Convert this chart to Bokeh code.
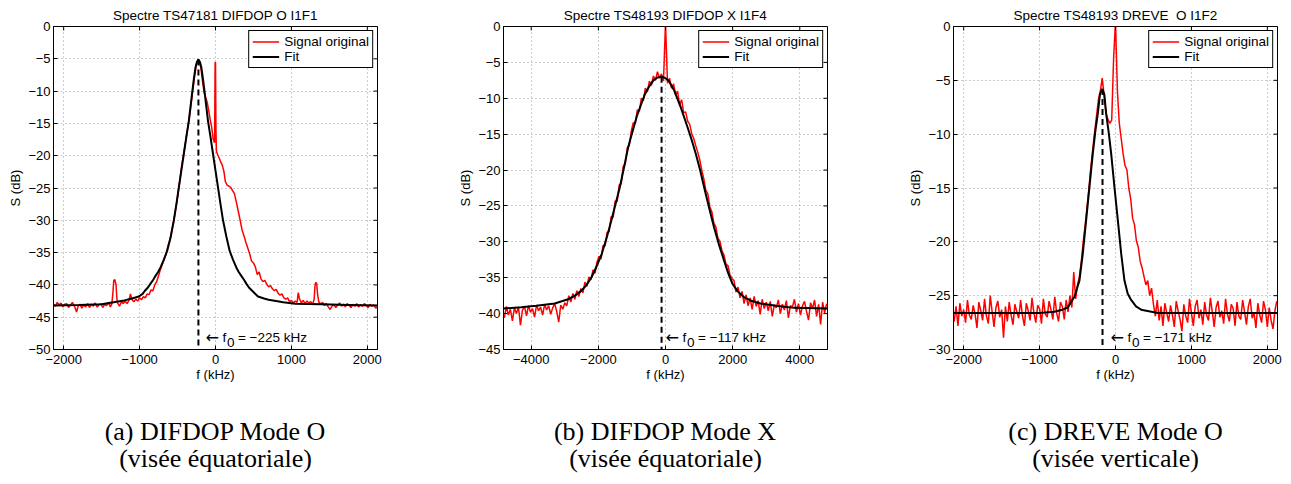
import numpy as np
from bokeh.plotting import figure
from bokeh.layouts import row, column
from bokeh.models import (Range1d, Label, Legend, FixedTicker, Title,
                          CustomJSTickFormatter)
from bokeh.core.properties import value
from bokeh.embed import file_html
from bokeh.resources import INLINE

SANS = "Liberation Sans"
SERIF = "Liberation Serif"

# ---------------- texts / axes ----------------
titles = ["Spectre TS47181 DIFDOP O I1F1",
          "Spectre TS48193 DIFDOP X I1F4",
          "Spectre TS48193 DREVE \u00a0O I1F2"]
captions_1 = ["(a) DIFDOP Mode O", "(b) DIFDOP Mode X", "(c) DREVE Mode O"]
captions_2 = ["(visée équatoriale)", "(visée équatoriale)", "(visée verticale)"]
f0_values = [-225, -117, -171]
f0_peaks = [-5.1, -7.0, -5.8]
x_ranges = [(-2134, 2134), (-4825, 4825), (-2134, 2134)]
y_ranges = [(-50, 0), (-45, 0), (-30, 0)]
x_ticks = [[-2000, -1000, 0, 1000, 2000],
           [-4000, -2000, 0, 2000, 4000],
           [-2000, -1000, 0, 1000, 2000]]
y_ticks = [[-50, -45, -40, -35, -30, -25, -20, -15, -10, -5, 0],
           [-45, -40, -35, -30, -25, -20, -15, -10, -5, 0],
           [-30, -25, -20, -15, -10, -5, 0]]

# ---------------- panel (a) ----------------
f1_sig = [-2134, -2110, -2085, -2060, -2035, -2010, -1985, -1960, -1935, -1910,
          -1885, -1860, -1830, -1810, -1785, -1760, -1735, -1710, -1685, -1660,
          -1635, -1610, -1585, -1560, -1535, -1510, -1485, -1460, -1435, -1410, -1385,
          -1365, -1350, -1340, -1325, -1310, -1300, -1290, -1265, -1240, -1215,
          -1190, -1165, -1140, -1120, -1100, -1075, -1050, -1025, -1000, -975,
          -950, -925, -900, -875, -850, -825, -800, -775, -750, -725,
          -700, -675, -650, -625, -600, -575, -550, -525, -500, -475,
          -450, -425, -400, -375, -350, -325, -300, -275, -250, -230,
          -210, -190, -170, -150, -130, -110, -90, -70, -50, -30,
          -12, -5, 0, 6, 12,
          30, 50, 70, 90, 110, 130, 150, 175, 200, 225,
          250, 275, 300, 325, 350, 375, 400, 425, 450, 475,
          500, 525, 550, 575, 600, 625, 650, 675, 700, 725,
          750, 775, 800, 825, 850, 875, 900, 925, 950, 975, 1000,
          1025, 1050, 1075, 1090, 1105, 1130, 1155, 1180, 1205, 1230,
          1255, 1280, 1300, 1310, 1320, 1333, 1345, 1360, 1385, 1410,
          1435, 1460, 1485, 1510, 1535, 1560, 1585, 1610, 1635, 1660,
          1685, 1710, 1735, 1760, 1785, 1810, 1835, 1860, 1885, 1910,
          1935, 1960, 1985, 2010, 2035, 2060, 2085, 2110, 2134]
s1_sig = [-43.0, -43.3, -42.7, -43.1, -42.8, -43.4, -43.0, -42.9, -43.5, -43.1,
          -42.7, -43.2, -44.2, -43.3, -43.0, -43.6, -43.1, -43.4, -42.9, -43.5,
          -43.0, -43.3, -42.8, -43.4, -43.1, -42.9, -43.5, -43.0, -43.2, -42.7, -43.4,
          -42.9, -41.0, -39.3, -39.2, -40.0, -42.0, -42.8, -43.3, -42.6, -42.9,
          -42.5, -42.9, -42.4, -41.4, -42.3, -42.6, -42.2, -42.5, -42.0, -42.3,
          -41.8, -42.0, -41.4, -41.5, -40.8, -40.9, -40.0, -39.5, -38.6, -37.6,
          -36.8, -35.9, -35.2, -33.9, -33.0, -31.5, -30.2, -28.3, -26.4, -24.3,
          -22.0, -20.1, -18.3, -16.4, -14.5, -12.3, -10.0, -7.6, -5.8, -5.1,
          -5.5, -6.6, -8.6, -10.2, -11.0, -11.7, -13.0, -14.4, -15.6, -17.5,
          -18.0, -5.6, -5.5, -16.0, -19.3,
          -19.9, -20.4, -21.0, -21.5, -22.4, -24.0, -24.5, -24.7, -24.9, -25.4,
          -25.9, -27.2, -28.6, -30.0, -31.5, -32.4, -33.4, -34.3, -35.2, -36.3,
          -36.6, -37.2, -38.4, -38.0, -39.1, -39.5, -39.3, -39.9, -40.3, -40.1,
          -40.6, -40.9, -40.7, -41.3, -41.6, -41.4, -42.0, -42.2, -42.0, -42.6, -42.4,
          -42.8, -42.5, -42.7, -41.2, -42.1, -42.8, -42.4, -42.9, -42.5, -42.8,
          -42.6, -43.0, -42.2, -40.2, -39.6, -39.8, -41.5, -42.6, -43.0, -42.7,
          -43.2, -42.9, -43.4, -43.8, -43.3, -43.0, -43.5, -43.1, -42.8, -43.3,
          -43.0, -43.4, -42.9, -43.2, -43.5, -43.0, -43.3, -42.9, -43.4, -43.1,
          -43.3, -42.9, -43.2, -43.5, -43.0, -43.3, -43.1, -43.6, -43.4]
f1_fit = [-2134, -1800, -1500, -1343, -1200, -1100, -1010, -960, -930, -890, -856,
          -820, -790, -756, -724, -680, -636, -590, -549, -515,
          -483, -450, -417, -384, -351, -329, -307, -285, -263, -245, -225,
          -205, -187, -165, -143, -121, -99, -66, -33, 0, 33,
          66, 99, 143, 186, 230, 274, 306, 340, 375, 406, 440, 483, 560,
          640, 700, 893, 1050, 1400, 1750, 2134]
s1_fit = [-43.2, -43.1, -43.0, -42.7, -42.4, -42.1, -41.8, -41.4, -40.9, -40.4, -39.8,
          -39.2, -38.6, -38.0, -37.3, -36.1, -34.7, -32.6, -30.0, -27.5,
          -24.9, -22.3, -19.7, -17.1, -14.6, -12.4, -10.2, -8.1, -6.3, -5.5, -5.1,
          -5.5, -6.3, -8.1, -10.2, -12.4, -14.6, -17.1, -19.7, -22.3, -24.9,
          -27.5, -30.0, -32.5, -34.7, -36.1, -37.3, -38.0, -38.6, -39.2, -39.8, -40.4, -40.9, -41.8,
          -42.1, -42.3, -42.7, -42.9, -43.0, -43.1, -43.2]

# ---------------- panel (b) ----------------  (signal sampled every 60 kHz from -4800 to 4800)
s2_sig = [-40.6, -39.0, -40.2, -39.4, -41.0, -39.2, -40.0, -39.1, -41.6, -39.5,
          -39.0, -40.3, -38.9, -39.8, -39.3, -40.5, -38.8, -39.6, -39.1, -40.2,
          -38.7, -39.5, -38.9, -40.1, -39.2, -38.6, -39.7, -41.2, -38.8, -39.4, -38.5,
          -38.9, -37.5, -38.4, -37.2, -38.0, -36.8, -37.6, -36.5, -37.1, -35.6,
          -36.2, -34.9, -35.3, -33.9, -34.4, -32.8,
          -32.0, -32.4, -30.5, -30.6, -28.7, -28.6, -26.5, -26.6, -24.3, -24.4,
          -22.1, -21.9, -19.5, -19.2, -16.9, -16.6, -14.6,
          -13.4, -13.5, -11.6, -11.8, -10.0, -10.3, -8.6, -9.1, -7.6, -8.2,
          -6.9, -7.5, -6.3, -7.2, -6.6, -7.6, 0.5,
          -7.9, -7.2, -8.6, -8.0, -9.5, -9.0, -10.9, -10.2, -12.0, -11.9,
          -13.2, -13.6, -14.9, -15.6, -16.6, -17.5,
          -18.6, -20.0, -21.2, -22.8, -23.3, -25.1, -25.8, -27.4, -27.9, -29.5,
          -29.9, -31.2, -31.8, -33.1, -33.3, -34.6, -35.1,
          -35.4, -37.0, -36.3, -37.8, -36.9, -38.6, -37.4, -38.9, -37.8, -39.4,
          -37.6, -39.0, -38.2, -40.1, -38.0, -39.3, -38.4,
          -39.6, -38.3, -40.4, -38.8, -39.2, -38.1, -40.0, -38.7, -39.5, -38.2,
          -40.6, -38.9, -39.1, -38.0, -39.8, -38.6, -40.2, -38.9, -38.3, -39.7,
          -40.9, -38.5, -39.3, -38.1, -40.4, -38.7, -41.5, -38.4, -39.9, -38.6]
f2_fit = [-4825, -4300, -3850, -3300, -2900, -2700, -2500, -2350, -2200, -2050,
          -1900, -1750, -1610, -1480, -1360, -1230, -1110, -980, -860, -730,
          -610, -480, -360, -240, -117, 0, 100, 256, 450, 654,
          780, 900, 1030, 1150, 1300, 1447, 1600, 1743, 1870, 1990,
          2150, 2335, 2550, 2830, 3300, 3820, 4825]
s2_fit = [-39.3, -39.1, -38.9, -38.6, -38.0, -37.5, -36.8, -36.0, -34.9, -33.4,
          -31.7, -29.4, -27.0, -24.6, -22.4, -19.5, -16.8, -14.6, -12.6, -10.9,
          -9.4, -8.3, -7.5, -7.1, -7.0, -7.2, -7.6, -8.9, -11.2, -14.0,
          -15.8, -17.7, -20.0, -22.4, -25.3, -28.0, -30.5, -32.6, -34.4, -35.8,
          -36.9, -37.7, -38.2, -38.6, -38.9, -39.2, -39.3]

# ---------------- panel (c) ----------------  (signal sampled every 25 kHz from -2125 to 2125)
s3_sig = [-27.4, -26.0, -27.8, -25.7, -26.9, -26.3, -27.5, -25.4, -26.8, -27.2,
          -25.9, -26.7, -28.0, -25.6, -26.4, -27.3, -25.3, -26.9, -27.6, -25.0,
          -26.5, -27.9, -26.1, -25.5, -27.0, -26.3, -28.9, -26.0, -27.4, -25.6,
          -26.8, -27.7, -25.8, -26.5, -27.1, -25.4, -26.9, -27.8, -25.7, -26.4,
          -27.3, -25.2, -26.6, -27.5, -25.9, -26.2, -27.6, -25.3, -26.7, -27.0,
          -25.5, -26.3, -27.2, -25.1, -26.6, -27.4, -25.6,
          -26.0, -27.2, -25.4, -26.5, -25.0, -26.1, -22.8, -25.3, -24.0, -23.2,
          -21.8, -20.0, -18.5, -16.8, -15.0, -13.1, -11.4,
          -9.8, -8.3, -6.8, -6.0, -4.8, -6.4, -8.1, -8.6, -9.0, -8.7, -3.0, 0.5,
          -6.0, -9.0, -10.4, -11.8, -12.9, -13.3, -15.0, -16.0, -17.8, -18.4,
          -19.9, -20.5, -21.8, -22.4, -23.2, -24.0, -23.6, -25.0, -24.3, -25.8,
          -26.9, -25.4, -27.3, -26.0, -27.8, -25.7, -26.6, -27.4, -25.9, -26.8,
          -27.9, -25.5, -26.4, -27.2, -28.3, -25.8, -26.9, -27.5, -25.3, -26.6,
          -27.8, -26.0, -25.4, -27.1, -26.3, -27.7, -25.6, -26.8, -27.3, -25.2,
          -26.5, -27.9, -26.1, -25.5, -27.0, -26.4, -27.6, -25.3, -26.7, -27.4,
          -25.8, -26.2, -27.8, -25.6, -26.9, -27.2, -25.4, -26.5, -27.7, -26.0,
          -25.3, -27.1, -26.6, -28.0, -25.7, -26.8, -27.5, -25.5, -26.3, -27.9,
          -26.1, -27.3, -28.1, -26.4, -25.5]
f3_fit = [-2134, -1000, -805, -700, -629, -541, -475, -431, -387, -343,
          -299, -265, -233, -205, -176, -147, -123, -90, -57, -14,
          31, 75, 118, 160, 206, 270, 338, 558, 2134]
s3_fit = [-26.6, -26.6, -26.5, -26.3, -26.1, -25.1, -23.6, -21.1, -18.0, -14.9,
          -11.8, -9.7, -8.1, -6.3, -5.8, -6.3, -8.1, -9.8, -11.8, -14.9,
          -18.0, -21.1, -23.6, -24.8, -25.4, -26.0, -26.3, -26.6, -26.6]

f2_sig = np.linspace(-4800, 4800, len(s2_sig))
f3_sig = np.linspace(-2125, 2125, len(s3_sig))

FRAME_W = 324
FRAME_H = 323
BORDER_L = 53
BORDER_T = 26
BORDER_B = 40
CAP_H = 87

fmt_code = "return String(tick).replace('-', '\\u2212');"


def make_panel(i, f_sig, s_sig, f_fit, s_fit, width, border_right, text_dx):
    p = figure(width=width, height=BORDER_T + FRAME_H + BORDER_B,
               output_backend="svg", toolbar_location=None,
               x_range=Range1d(*x_ranges[i]), y_range=Range1d(*y_ranges[i]),
               min_border_left=BORDER_L, min_border_right=border_right,
               min_border_top=BORDER_T, min_border_bottom=BORDER_B)
    p.background_fill_color = "white"
    p.border_fill_color = "white"
    p.outline_line_color = "black"
    p.outline_line_alpha = 1.0
    p.outline_line_width = 1

    p.title = Title(text=titles[i], align="center", vertical_align="top",
                    text_font=SANS, text_font_size="13.5px", text_font_style="normal",
                    text_color="black", standoff=4)

    n = min(len(f_sig), len(s_sig))
    r_sig = p.line(list(f_sig[:n]), list(s_sig[:n]), line_color="#ff0000", line_width=1.5)
    m = min(len(f_fit), len(s_fit))
    r_fit = p.line(list(f_fit[:m]), list(s_fit[:m]), line_color="black", line_width=2)
    p.line([f0_values[i], f0_values[i]], [f0_peaks[i], y_ranges[i][0]],
           line_color="black", line_width=2, line_dash="6 4")

    # mirrored inner ticks on the top and right edges of the box (clipped to 4 px inside)
    xt = x_ticks[i]
    yt = y_ticks[i]
    p.scatter(x=xt, y=[y_ranges[i][1]] * len(xt), marker="dash", angle=np.pi / 2,
              size=8, line_color="black", line_width=1)
    p.scatter(x=[x_ranges[i][1]] * len(yt), y=yt, marker="dash",
              size=8, line_color="black", line_width=1)

    xa = p.xaxis[0]
    ya = p.yaxis[0]
    xa.ticker = FixedTicker(ticks=x_ticks[i])
    ya.ticker = FixedTicker(ticks=y_ticks[i])
    for ax in (xa, ya):
        ax.formatter = CustomJSTickFormatter(code=fmt_code)
        ax.major_tick_in = 4
        ax.major_tick_out = 0
        ax.minor_tick_in = 0
        ax.minor_tick_out = 0
        ax.axis_line_color = "black"
        ax.major_tick_line_color = "black"
        ax.major_label_text_font = SANS
        ax.major_label_text_font_size = "13px"
        ax.major_label_text_color = "black"
        ax.axis_label_text_font = SANS
        ax.axis_label_text_font_size = "13px"
        ax.axis_label_text_font_style = "normal"
        ax.axis_label_text_color = "black"
    xa.axis_label = "f (kHz)"
    ya.axis_label = "S (dB)"
    xa.major_label_standoff = 5
    xa.axis_label_standoff = 0
    ya.major_label_standoff = 3
    ya.axis_label_standoff = 2

    for g in (p.xgrid[0], p.ygrid[0]):
        g.grid_line_color = "#9a9a9a"
        g.grid_line_dash = "1 3"
        g.grid_line_width = 1

    leg = Legend(items=[("Signal original", [r_sig]), ("Fit", [r_fit])],
                 location="top_right", border_line_color="black", border_line_width=1,
                 border_line_alpha=1.0, background_fill_color="white", background_fill_alpha=1.0,
                 label_text_font=SANS, label_text_font_size="13.5px", label_text_color="black",
                 padding=3, spacing=0, margin=4, glyph_width=27, glyph_height=15,
                 label_height=15, label_standoff=5)
    p.add_layout(leg)

    # f0 annotation
    f0txt = "= " + str(f0_values[i]).replace("-", "\u2212") + " kHz"
    p.add_layout(Label(x=f0_values[i], y=12, y_units="screen", x_offset=text_dx,
                       text="\u2190", text_baseline="middle",
                       text_font="DejaVu Sans", text_font_size="16px", text_color="black"))
    p.add_layout(Label(x=f0_values[i], y=12, y_units="screen", x_offset=text_dx + 17,
                       text="f", text_baseline="middle",
                       text_font=SANS, text_font_size="13.5px", text_color="black"))
    p.add_layout(Label(x=f0_values[i], y=7, y_units="screen", x_offset=text_dx + 21.5,
                       text="0", text_baseline="middle",
                       text_font=SANS, text_font_size="13.5px", text_color="black"))
    p.add_layout(Label(x=f0_values[i], y=12, y_units="screen", x_offset=text_dx + 32.5,
                       text=f0txt, text_baseline="middle",
                       text_font=SANS, text_font_size="13.5px", text_color="black"))
    return p


def make_caption(i, width):
    c = figure(width=width, height=CAP_H, output_backend="svg", toolbar_location=None,
               x_range=Range1d(0, width), y_range=Range1d(0, CAP_H),
               x_axis_type=None, y_axis_type=None, min_border=0)
    c.outline_line_color = None
    c.background_fill_color = "white"
    c.border_fill_color = "white"
    cx = BORDER_L + FRAME_W / 2
    c.text(x=[cx, cx], y=[CAP_H - 42.0, CAP_H - 69.0],
           text=[captions_1[i], captions_2[i]],
           text_align="center", text_baseline="alphabetic",
           text_font=value(SERIF), text_font_size=value("26px"), text_color="black")
    return c


p1 = make_panel(0, f1_sig, s1_sig, f1_fit, s1_fit, 450, 73, 7)
p2 = make_panel(1, f2_sig, s2_sig, f2_fit, s2_fit, 450, 73, 4)
p3 = make_panel(2, f3_sig, s3_sig, f3_fit, s3_fit, 385, 8, 8)
c1 = make_caption(0, 450)
c2 = make_caption(1, 450)
c3 = make_caption(2, 385)

layout = column(row(p1, p2, p3), row(c1, c2, c3))
open("out.html", "w").write(file_html(layout, INLINE))
